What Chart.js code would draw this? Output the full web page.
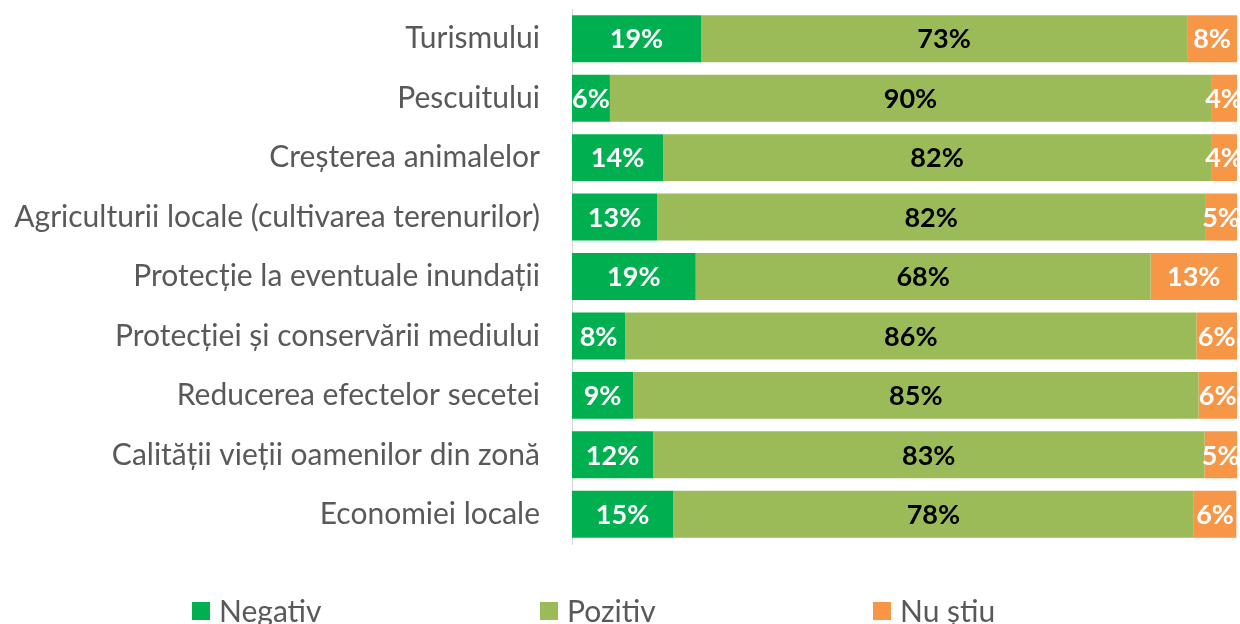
<!DOCTYPE html>
<html><head><meta charset="utf-8">
<script src="https://cdn.jsdelivr.net/npm/chart.js@4"></script>
<style>html,body{margin:0;padding:0;background:#fff}#wrap{width:1240px;height:624px;position:relative}</style>
</head><body><div id="wrap"><canvas id="c"></canvas></div>
<script>
const categories = [
  'Turismului',
  'Pescuitului',
  'Creșterea animalelor',
  'Agriculturii locale (cultivarea terenurilor)',
  'Protecție la eventuale inundații',
  'Protecției și conservării mediului',
  'Reducerea efectelor secetei',
  'Calității vieții oamenilor din zonă',
  'Economiei locale'
];
const negativ = [19.4, 5.7, 13.7, 12.8, 18.6, 8.0, 9.2, 12.2, 15.2];
const pozitiv = [73.1, 90.4, 82.4, 82.4, 68.4, 85.9, 85.0, 82.9, 78.3];
const nuStiu  = [7.5, 3.9, 3.9, 4.8, 13.0, 6.1, 5.8, 4.9, 6.4];
const seriesNames = ['Negativ', 'Pozitiv', 'Nu știu'];
const seriesColors = ['#00B050', '#9BBB59', '#F79646'];
const labelColors = ['#FFFFFF', '#000000', '#FFFFFF'];

const valueLabels = {
  id: 'valueLabels',
  afterDatasetsDraw(chart) {
    const ctx = chart.ctx;
    ctx.save();
    ctx.font = 'bold 27px Lato';
    ctx.textAlign = 'center';
    ctx.textBaseline = 'middle';
    chart.data.datasets.forEach((ds, i) => {
      const meta = chart.getDatasetMeta(i);
      meta.data.forEach((el, j) => {
        const p = el.getProps(['x', 'y', 'base'], true);
        ctx.fillStyle = labelColors[i];
        ctx.fillText(Math.round(ds.data[j]) + '%', (p.x + p.base) / 2, p.y + 1);
      });
    });
    ctx.restore();
  }
};

const customLegend = {
  id: 'customLegend',
  afterDraw(chart) {
    const ctx = chart.ctx;
    const xs = [192, 540, 873];
    ctx.save();
    ctx.font = '30px Lato';
    ctx.textBaseline = 'alphabetic';
    ctx.textAlign = 'left';
    chart.data.datasets.forEach((ds, i) => {
      ctx.fillStyle = ds.backgroundColor;
      ctx.fillRect(xs[i], 602, 18, 18);
      ctx.fillStyle = '#595959';
      ctx.fillText(ds.label, xs[i] + 27, 622);
    });
    ctx.restore();
  }
};

new Chart(document.getElementById('c'), {
  type: 'bar',
  data: {
    labels: categories,
    datasets: [negativ, pozitiv, nuStiu].map((d, i) => ({
      label: seriesNames[i],
      data: d,
      backgroundColor: seriesColors[i],
      borderWidth: 0,
      barPercentage: 0.79,
      categoryPercentage: 1
    }))
  },
  options: {
    indexAxis: 'y',
    responsive: true,
    maintainAspectRatio: false,
    animation: false,
    layout: { padding: { top: 9, bottom: 80, right: 3, left: 0 } },
    plugins: { legend: { display: false }, tooltip: { enabled: false } },
    scales: {
      x: { stacked: true, min: 0, max: 100, display: false },
      y: {
        stacked: true,
        grid: { display: false },
        border: { display: true, color: '#D9D9D9', width: 1 },
        ticks: { color: '#595959', font: { family: 'Lato', size: 30 }, padding: 24 },
        afterFit: s => { s.width = 572; s.paddingTop = 0; s.paddingBottom = 0; }
      }
    }
  },
  plugins: [valueLabels, customLegend]
});
</script>
</body></html>
